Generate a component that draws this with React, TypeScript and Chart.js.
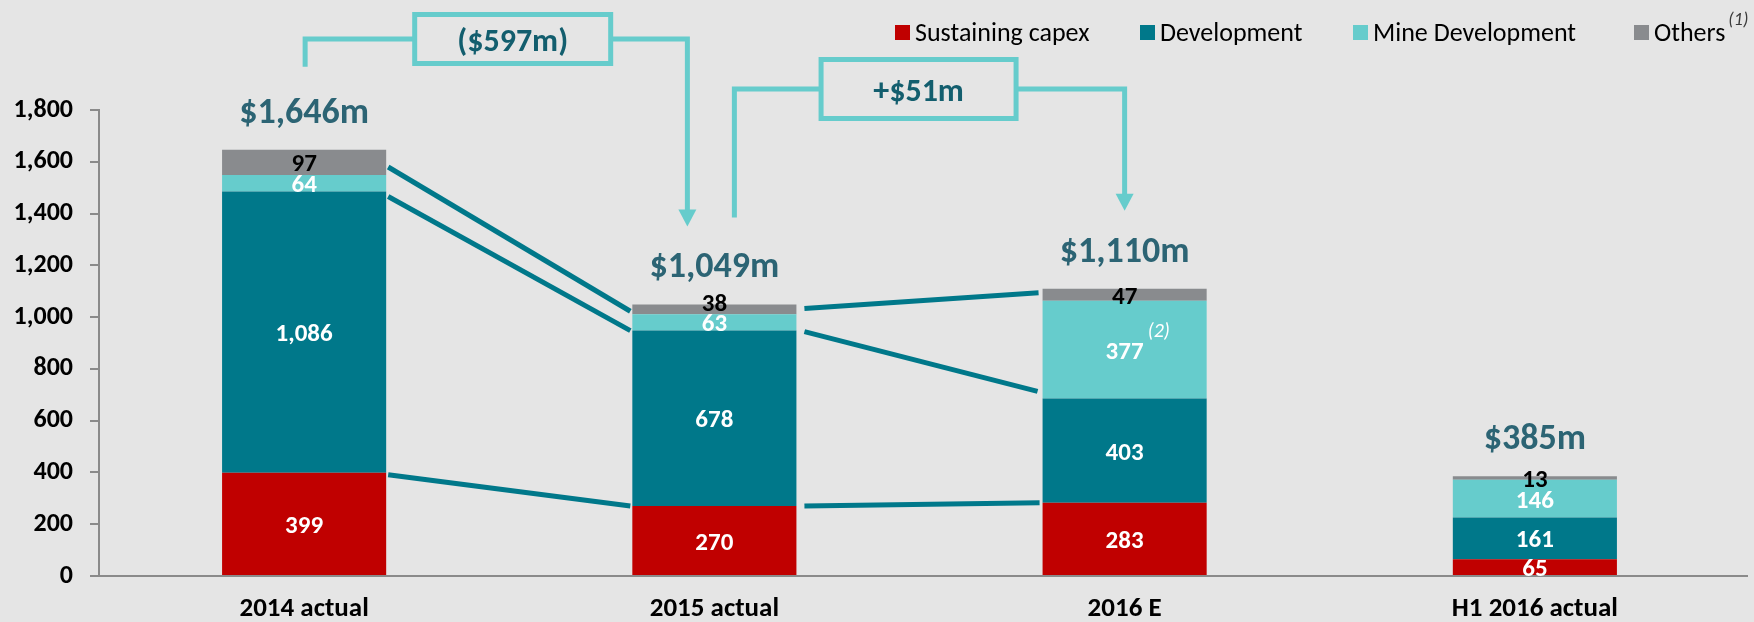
import React, { useEffect, useRef } from 'react';
import { Chart, registerables } from 'chart.js';

Chart.register(...registerables);

// ---------- data ----------
const categories = ['2014 actual', '2015 actual', '2016 E', 'H1 2016 actual'];
const sustainingCapex = [399, 270, 283, 65];
const development = [1086, 678, 403, 161];
const mineDevelopment = [64, 63, 377, 146];
const others = [97, 38, 47, 13];
const seriesNames = ['Sustaining capex', 'Development', 'Mine Development', 'Others'];
const yTickStep = 200;
const yMax = 1800;
const bridgeTexts = ['($597m)', '+$51m'];

// ---------- styles ----------
const FONT = 'Carlito, Lato, "Open Sans", sans-serif';
const BG = '#E5E5E5';
const seriesColors = ['#C00000', '#00788A', '#66CCCC', '#898B8E'];
const labelColors = ['#FFFFFF', '#FFFFFF', '#FFFFFF', '#000000'];
const AXIS = '#8A8A8A';
const TOTAL_COLOR = '#2C6474';
const BRIDGE_TEXT = '#135E6E';
const BRIDGE_LINE = '#66CCCC';
const CONNECT = '#00788A';
const LABEL_SIZE = 25;
const TICK_SIZE = 26;
const XLABEL_SIZE = 27;
const TOTAL_SIZE = 36;
const BRIDGE_SIZE = 32;
const LEGEND_SIZE = 26;

// small vertical nudges of individual segment labels (series, category, px)
const labelNudges = [{ series: 3, category: 1, dy: -7 }];

// connector lines between stacked boundaries (level = number of series stacked)
const connectors = [
  { from: 0, to: 1, level: 3, dy0: -8, dy1: -3, g0: 2, g1: 2 },
  { from: 0, to: 1, level: 2, dy0: 5, dy1: 0, g0: 2, g1: 2 },
  { from: 0, to: 1, level: 1, dy0: 2, dy1: 0, g0: 2, g1: 2 },
  { from: 1, to: 2, level: 4, dy0: 4, dy1: 4, g0: 8, g1: 4 },
  { from: 1, to: 2, level: 2, dy0: 1, dy1: -7, g0: 8, g1: 5 },
  { from: 1, to: 2, level: 1, dy0: 0, dy1: 0, g0: 8, g1: 3 },
];

// bridge brackets
const bridges = [
  { from: 0, to: 1, dxFrom: 1, dxTo: -27, yValue: 2074, boxFrac: 0.543, boxW: 196, boxH: 49, drop: 83, text: bridgeTexts[0] },
  { from: 1, to: 2, dxFrom: 20, dxTo: 0, yValue: 1881, boxFrac: 0.472, boxW: 195, boxH: 59, drop: 87, text: bridgeTexts[1] },
];

const legendBoxX = [895, 1140, 1353, 1634];

function fmt(n: number) {
  return n.toLocaleString('en-US');
}

const overlayPlugin = {
  id: 'overlay',
  beforeDraw(chart: any) {
    const ctx = chart.ctx;
    ctx.save();
    ctx.fillStyle = BG;
    ctx.fillRect(0, 0, chart.width, chart.height);
    ctx.restore();
  },
  afterDatasetsDraw(chart: any) {
    const ctx = chart.ctx;
    const xs = chart.scales.x;
    const ys = chart.scales.y;
    const area = chart.chartArea;
    const metas = chart.data.datasets.map((_: any, i: number) => chart.getDatasetMeta(i));
    const topOf = (ci: number) => metas[metas.length - 1].data[ci].y;

    ctx.save();
    // small extension of the category axis line to the right
    ctx.strokeStyle = AXIS;
    ctx.lineWidth = 2;
    ctx.beginPath();
    ctx.moveTo(area.right - 1, ys.getPixelForValue(0));
    ctx.lineTo(area.right + 8, ys.getPixelForValue(0));
    ctx.stroke();

    // connectors
    ctx.strokeStyle = CONNECT;
    ctx.lineWidth = 5;
    ctx.lineCap = 'butt';
    connectors.forEach((c) => {
      const a = metas[c.level - 1].data[c.from];
      const b = metas[c.level - 1].data[c.to];
      ctx.beginPath();
      ctx.moveTo(a.x + a.width / 2 + c.g0, a.y + c.dy0);
      ctx.lineTo(b.x - b.width / 2 - c.g1, b.y + c.dy1);
      ctx.stroke();
    });

    // segment labels
    ctx.textAlign = 'center';
    ctx.textBaseline = 'alphabetic';
    metas.forEach((meta: any, di: number) => {
      meta.data.forEach((bar: any, ci: number) => {
        const v = chart.data.datasets[di].data[ci];
        const nudge = labelNudges.find((n) => n.series === di && n.category === ci);
        const cy = (bar.y + bar.base) / 2 + (nudge ? nudge.dy : 0);
        ctx.font = `bold ${LABEL_SIZE}px ${FONT}`;
        ctx.fillStyle = labelColors[di];
        ctx.fillText(fmt(v), bar.x, cy + LABEL_SIZE * 0.36);
        if (di === 2 && ci === 2) {
          const w = ctx.measureText(fmt(v)).width;
          ctx.font = `italic 20px ${FONT}`;
          ctx.textAlign = 'left';
          ctx.fillText('(2)', bar.x + w / 2 + 4, cy - 13);
          ctx.textAlign = 'center';
        }
      });
    });

    // totals
    const totals = categories.map((_, ci) =>
      chart.data.datasets.reduce((s: number, d: any) => s + d.data[ci], 0)
    );
    ctx.font = `bold ${TOTAL_SIZE}px ${FONT}`;
    ctx.fillStyle = TOTAL_COLOR;
    totals.forEach((t: number, ci: number) => {
      const bar = metas[0].data[ci];
      ctx.fillText('$' + fmt(t) + 'm', bar.x, topOf(ci) - 40 + TOTAL_SIZE * 0.36);
    });

    // bridges
    bridges.forEach((b) => {
      const xl = xs.getPixelForTick(b.from) + b.dxFrom;
      const xr = xs.getPixelForTick(b.to) + b.dxTo;
      const yl = ys.getPixelForValue(b.yValue);
      const bx = xl + (xr - xl) * b.boxFrac;
      const tip = topOf(b.to) - 78;
      ctx.strokeStyle = BRIDGE_LINE;
      ctx.fillStyle = BRIDGE_LINE;
      ctx.lineWidth = 5;
      ctx.lineJoin = 'miter';
      ctx.beginPath();
      ctx.moveTo(xl, topOf(b.from) - b.drop);
      ctx.lineTo(xl, yl);
      ctx.lineTo(bx - b.boxW / 2, yl);
      ctx.stroke();
      ctx.beginPath();
      ctx.moveTo(bx + b.boxW / 2, yl);
      ctx.lineTo(xr, yl);
      ctx.lineTo(xr, tip - 15);
      ctx.stroke();
      ctx.beginPath();
      ctx.moveTo(xr - 9, tip - 17);
      ctx.lineTo(xr + 9, tip - 17);
      ctx.lineTo(xr, tip);
      ctx.closePath();
      ctx.fill();
      ctx.beginPath();
      ctx.rect(bx - b.boxW / 2, yl - b.boxH / 2, b.boxW, b.boxH);
      ctx.stroke();
      ctx.font = `bold ${BRIDGE_SIZE}px ${FONT}`;
      ctx.fillStyle = BRIDGE_TEXT;
      ctx.textAlign = 'center';
      ctx.fillText(b.text, bx, yl + BRIDGE_SIZE * 0.36);
    });

    // legend
    ctx.textAlign = 'left';
    chart.data.datasets.forEach((d: any, i: number) => {
      const x0 = legendBoxX[i];
      ctx.fillStyle = d.backgroundColor;
      ctx.fillRect(x0, 25, 15, 15);
      ctx.font = `${LEGEND_SIZE}px ${FONT}`;
      ctx.fillStyle = '#000000';
      ctx.fillText(d.label, x0 + 20, 41);
      if (i === chart.data.datasets.length - 1) {
        const w = ctx.measureText(d.label).width;
        ctx.font = `italic 18px ${FONT}`;
        ctx.fillStyle = '#3A3A3A';
        ctx.fillText('(1)', x0 + 20 + w + 3, 25);
      }
    });
    ctx.restore();
  },
};

export default function App() {
  const ref = useRef<HTMLCanvasElement>(null);
  useEffect(() => {
    const seriesData = [sustainingCapex, development, mineDevelopment, others];
    const chart = new Chart(ref.current as HTMLCanvasElement, {
      type: 'bar',
      data: {
        labels: categories,
        datasets: seriesData.map((d, i) => ({
          label: seriesNames[i],
          data: d,
          backgroundColor: seriesColors[i],
          borderWidth: 0,
          barPercentage: 0.4,
          categoryPercentage: 1,
        })),
      },
      options: {
        responsive: false,
        animation: false,
        devicePixelRatio: 1,
        layout: { padding: { top: 110, right: 14, bottom: 0, left: 0 } },
        plugins: {
          legend: { display: false },
          tooltip: { enabled: false },
        },
        scales: {
          x: {
            stacked: true,
            offset: true,
            grid: { display: false, drawTicks: false },
            border: { display: true, color: AXIS, width: 2 },
            ticks: { font: { family: FONT, size: XLABEL_SIZE, weight: 'bold' }, color: '#000', padding: 17 },
            afterFit: (s: any) => { s.height = 46; },
          },
          y: {
            stacked: true,
            min: 0,
            max: yMax,
            ticks: {
              stepSize: yTickStep,
              font: { family: FONT, size: TICK_SIZE, weight: 'bold' },
              color: '#000',
              padding: 17,
              callback: (v: any) => fmt(Number(v)),
            },
            grid: { display: true, drawOnChartArea: false, drawTicks: true, tickLength: 9, color: AXIS, lineWidth: 2 },
            border: { display: true, color: AXIS, width: 2 },
            afterFit: (s: any) => { s.width = 99; },
          },
        },
      } as any,
      plugins: [overlayPlugin],
    });
    return () => chart.destroy();
  }, []);
  return (
    <div style={{ position: 'fixed', left: 0, top: 0, width: 1754, height: 622, background: BG }}>
      <canvas ref={ref} width={1754} height={622} style={{ display: 'block', width: 1754, height: 622 }} />
    </div>
  );
}
